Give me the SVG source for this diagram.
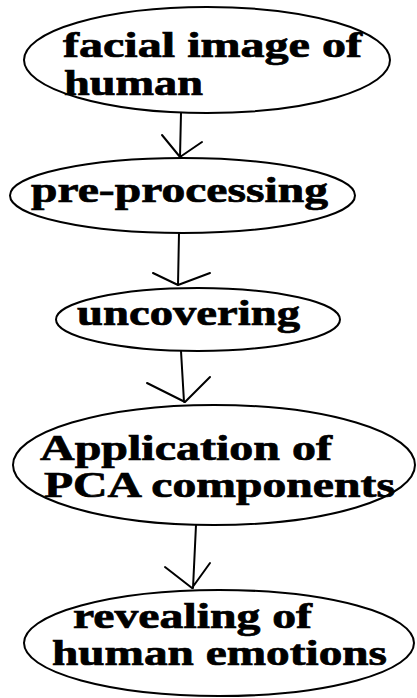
<svg xmlns="http://www.w3.org/2000/svg" width="417" height="698" viewBox="0 0 417 698">
  <style>
    .node ellipse { fill: #ffffff; stroke: #000000; stroke-width: 2; }
    .node text { font-family: "Liberation Serif", "Times New Roman", serif; font-weight: bold; font-size: 35px; fill: #000000; stroke: #000000; stroke-width: 0.7; }
    #connectors path { fill: none; stroke: #000000; stroke-width: 2; stroke-linecap: round; stroke-linejoin: round; }
  </style>
  <rect width="417" height="698" fill="#ffffff"/>

  <g id="connectors">
    <path d="M181,113 L180,157 M162,135 L180,157 L202,142"/>
    <path d="M179,233 L178,285 M153,273 L178,285 L210,273"/>
    <path d="M181,351 L184,402 M147,383 L185,402 L210,377"/>
    <path d="M196,525 L193,588 M165,567 L192,588 L210,563"/>
  </g>

  <g id="node-facial-image" class="node">
    <ellipse cx="207" cy="60" rx="183" ry="53"/>
    <text x="63" y="57" textLength="299" lengthAdjust="spacingAndGlyphs">facial image of</text>
    <text x="64" y="95" textLength="139" lengthAdjust="spacingAndGlyphs">human</text>
  </g>

  <g id="node-pre-processing" class="node">
    <ellipse cx="182.5" cy="195.5" rx="172.5" ry="37.5"/>
    <text x="31" y="202" textLength="297" lengthAdjust="spacingAndGlyphs">pre-processing</text>
  </g>

  <g id="node-uncovering" class="node">
    <ellipse cx="198" cy="319.5" rx="142" ry="31.5"/>
    <text x="77" y="325" textLength="223" lengthAdjust="spacingAndGlyphs">uncovering</text>
  </g>

  <g id="node-pca" class="node">
    <ellipse cx="214" cy="465" rx="201" ry="60"/>
    <text x="40" y="460" textLength="292" lengthAdjust="spacingAndGlyphs">Application of</text>
    <text x="44" y="497" textLength="351" lengthAdjust="spacingAndGlyphs">PCA components</text>
  </g>

  <g id="node-emotions" class="node">
    <ellipse cx="219" cy="643" rx="195" ry="53"/>
    <text x="73" y="628" textLength="239" lengthAdjust="spacingAndGlyphs">revealing of</text>
    <text x="52" y="665" textLength="335" lengthAdjust="spacingAndGlyphs">human emotions</text>
  </g>
</svg>
